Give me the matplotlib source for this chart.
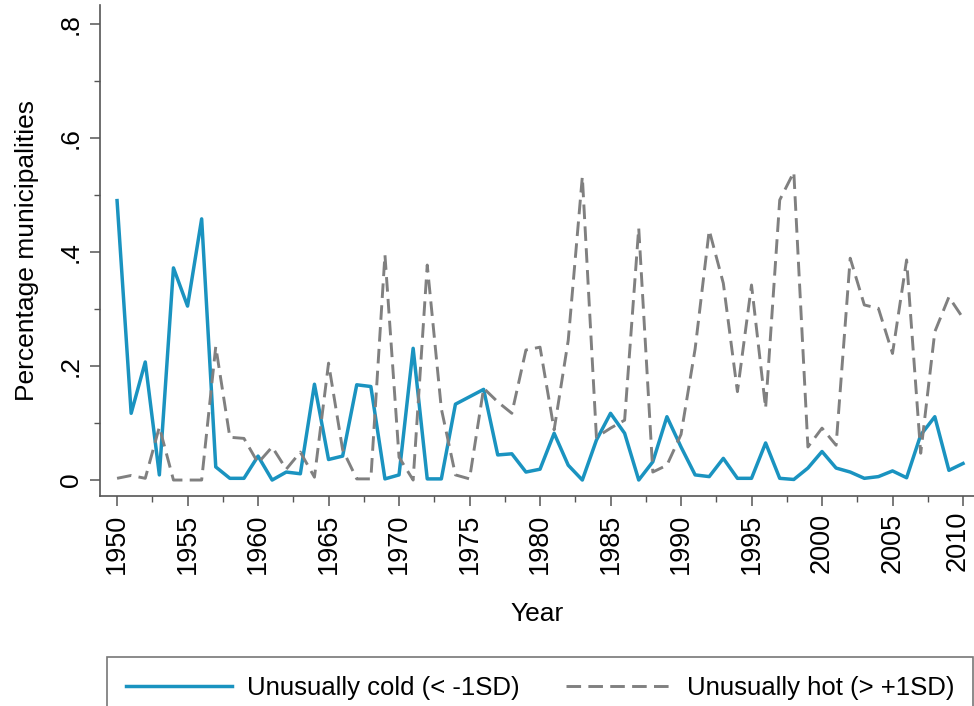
import matplotlib
matplotlib.use("Agg")
import matplotlib.pyplot as plt
from matplotlib.ticker import MultipleLocator, FixedLocator

plt.rcParams['font.family'] = ['Liberation Sans', 'DejaVu Sans']

years = list(range(1950, 2011))

# share of municipalities with an unusually cold year (< -1 SD)
cold = [0.490, 0.117, 0.207, 0.009, 0.372, 0.305, 0.458, 0.023, 0.003, 0.003,
        0.042, 0.000, 0.014, 0.011, 0.168, 0.036, 0.042, 0.167, 0.164, 0.002,
        0.009, 0.231, 0.002, 0.002, 0.133, 0.146, 0.159, 0.044, 0.046, 0.014,
        0.019, 0.082, 0.026, 0.000, 0.070, 0.117, 0.082, 0.000, 0.032, 0.111,
        0.058, 0.009, 0.006, 0.038, 0.003, 0.003, 0.065, 0.003, 0.001, 0.021,
        0.050, 0.021, 0.014, 0.003, 0.006, 0.016, 0.004, 0.079, 0.111, 0.017,
        0.029]

# share of municipalities with an unusually hot year (> +1 SD)
hot = [0.003, 0.008, 0.003, 0.093, 0.000, 0.000, 0.000, 0.234, 0.075, 0.073,
       0.030, 0.058, 0.019, 0.049, 0.005, 0.205, 0.053, 0.002, 0.002, 0.395,
       0.040, 0.000, 0.377, 0.125, 0.009, 0.002, 0.161, 0.137, 0.117, 0.228,
       0.233, 0.088, 0.245, 0.532, 0.075, 0.091, 0.105, 0.442, 0.014, 0.026,
       0.080, 0.230, 0.438, 0.345, 0.155, 0.342, 0.126, 0.491, 0.540, 0.058,
       0.091, 0.061, 0.389, 0.307, 0.301, 0.222, 0.386, 0.047, 0.260, 0.321,
       0.284]

x_ticks = list(range(1950, 2011, 5))
y_ticks = [0, 0.2, 0.4, 0.6, 0.8]
y_labels = ["0", ".2", ".4", ".6", ".8"]

fs = 19
fig = plt.figure(figsize=(9.74, 7.06), dpi=100)
ax = fig.add_axes([100 / 974, 210 / 706, 874 / 974, 491 / 706])

ax.plot(years, cold, color="#1a93c0", lw=2.5, label="Unusually cold (< -1SD)")
ax.plot(years, hot, color="#808080", lw=2.1, linestyle=(0, (5, 2.5)),
        label="Unusually hot (> +1SD)")

ax.set_xlim(1948.79, 2010.78)
ax.set_ylim(-0.028, 0.833)

for side in ("top", "right"):
    ax.spines[side].set_visible(False)
for side in ("left", "bottom"):
    ax.spines[side].set_color("#555555")
    ax.spines[side].set_linewidth(1.2)

ax.xaxis.set_major_locator(FixedLocator(x_ticks))
ax.xaxis.set_minor_locator(FixedLocator([y + 2.5 for y in x_ticks[:-1]]))
# the last year is written separately so it can sit a little inside the edge
ax.set_xticklabels([str(y) for y in x_ticks[:-1]] + [""], rotation=90, fontsize=19.5)
ax.annotate(str(x_ticks[-1]), xy=(x_ticks[-1], 0), xycoords=ax.get_xaxis_transform(),
            xytext=(-4, -10.5), textcoords="offset points", rotation=90,
            ha="center", va="top", fontsize=19.5)

ax.yaxis.set_major_locator(FixedLocator(y_ticks))
ax.yaxis.set_minor_locator(MultipleLocator(0.1))
ax.set_yticklabels(y_labels, rotation=90, va="center", fontsize=fs)

ax.tick_params(which="major", length=7.5, width=1.1, color="#555555", pad=5)
ax.tick_params(which="minor", length=4, width=1.0, color="#555555")

ax.set_xlabel("Year", fontsize=fs, labelpad=20)
ax.set_ylabel("Percentage municipalities", fontsize=fs, labelpad=14)

leg = fig.legend(loc="upper left", bbox_to_anchor=(107 / 974, 1 - 657 / 706),
                 ncol=2, fontsize=18.5, frameon=True, fancybox=False,
                 handlelength=4.1, handletextpad=0.6, columnspacing=1.8,
                 borderpad=0.75, borderaxespad=0)
leg.get_frame().set_edgecolor("#555555")
leg.get_frame().set_linewidth(1.2)

fig.savefig("out.png", dpi=100)
